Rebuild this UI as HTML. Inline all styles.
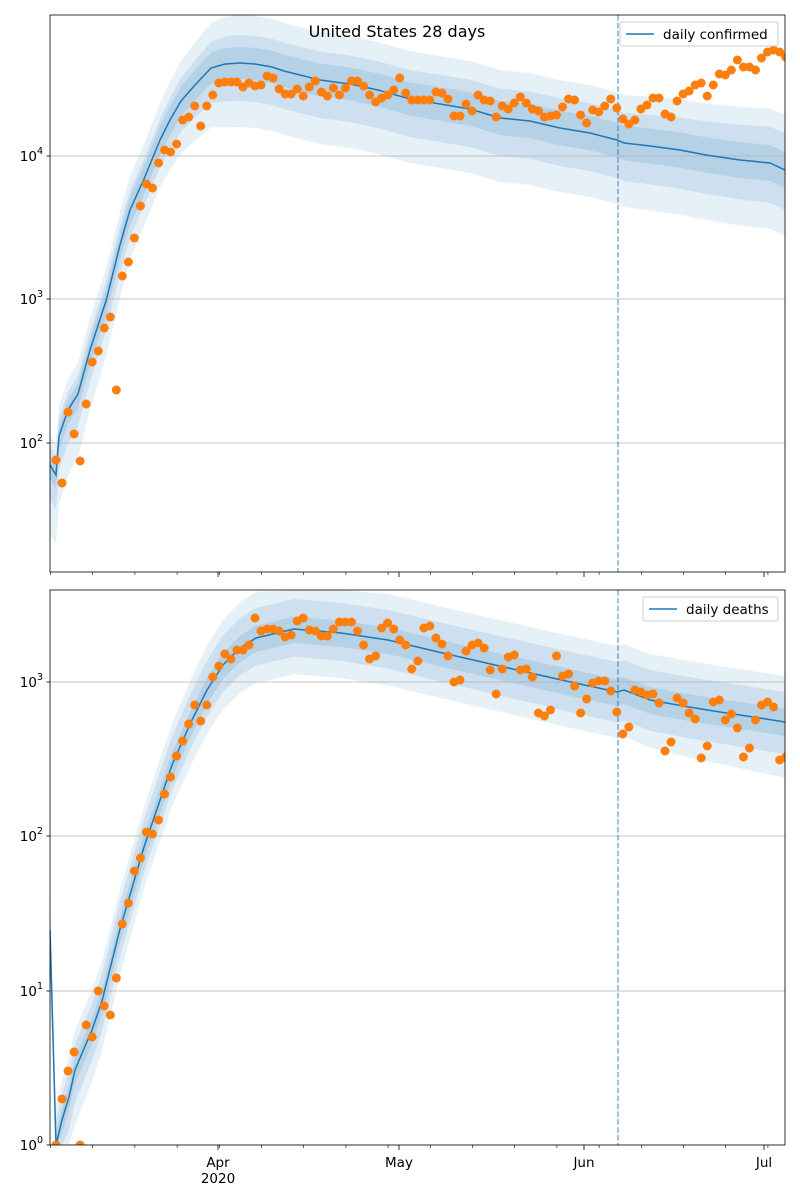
<!DOCTYPE html>
<html><head><meta charset="utf-8"><style>
html,body{margin:0;padding:0;background:#fff;}
svg{display:block;font-family:"DejaVu Sans","Liberation Sans",sans-serif;}
</style></head><body>
<svg id="s" width="800" height="1200" xmlns="http://www.w3.org/2000/svg"></svg>
<script>
const S=document.getElementById('s');let h='';
const topY=[460,483,412,434,461,404,362,351,328,317,390,276,262,238,206,184,188,163,150,152,144,120,117,106,126,106,95,83,82,82,82,87,83,86,85,76,78,89,94,94,89,96,87,81,92,96,88,95,88,81,81,86,95,102,98,95,90,78,93,100,100,100,100,92,93,99,116,116,104,111,95,100,101,117,106,109,103,97,103,109,111,117,116,115,107,99,100,115,123,110,112,106,99,108,119,124,120,109,105,98,98,114,117,101,94,91,85,83,96,85,74,75,70,60,67,67,70,58,52,50,52,57];
const botY=[1145,1099,1071,1052,1145,1025,1037,991,1006,1015,978,924,903,871,858,832,834,820,794,777,756,741,724,705,721,705,677,666,654,659,650,650,645,618,631,629,629,631,637,635,621,618,630,631,636,636,629,622,622,622,631,645,659,656,628,623,629,640,645,669,661,628,626,638,644,656,682,680,651,645,643,648,670,694,669,657,655,670,669,677,713,716,710,656,676,674,686,713,699,683,681,681,691,712,734,727,690,692,695,694,703,751,742,698,703,713,719,758,746,702,700,720,714,728,757,748,720,705,702,707,760,757];
const topM=[[50,465],[56,475],[59,436],[68,410],[78,394],[90,350],[106,301],[120,245],[130,210],[144,179],[160,140],[170,120],[181,101],[195,85],[211,68],[225,64],[240,63],[255,64],[272,67],[284,71],[296,74],[320,80],[350,84],[378,90],[410,99],[440,104],[470,109],[500,118],[530,121],[560,128],[590,133],[617,140],[624,143],[650,146],[680,150],[706,155],[740,160],[770,163],[785,170]];
const botM=[[50,930],[56,1145],[62,1120],[69,1097],[75,1070],[83,1051],[92,1030],[102,1001],[120,929],[144,847],[172,765],[191,722],[207,690],[223,665],[240,648],[256,638],[294,629],[341,633],[388,640],[434,651],[495,665],[566,681],[617,692],[624,690],[650,700],[683,706],[720,712],[753,717],[785,722]];
function lerpW(x,pts){ // pts: [[x,w]...]
  if(x<=pts[0][0])return pts[0][1];
  for(let i=1;i<pts.length;i++){if(x<=pts[i][0]){let t=(x-pts[i-1][0])/(pts[i][0]-pts[i-1][0]);return pts[i-1][1]+(pts[i][1]-pts[i-1][1])*t;}}
  return pts[pts.length-1][1];
}
function band(M,upP,dnP,y0,y1,op){
  let up=[],dn=[];
  M.forEach(([x,y])=>{up.push([x,Math.max(y0,y-lerpW(x,upP))]);dn.push([x,Math.min(y1,y+lerpW(x,dnP))]);});
  let p=up.map(q=>q.join(',')).join(' ')+' '+dn.reverse().map(q=>q.join(',')).join(' ');
  return `<polygon points="${p}" fill="#1f77b4" fill-opacity="${op}"/>`;
}
function axes(y0,y1,M,D,ticks,label,legW,clipId,B){
  h+=`<clipPath id="${clipId}"><rect x="50" y="${y0}" width="735" height="${y1-y0}"/></clipPath><g clip-path="url(#${clipId})">`;
  h+=band(M,B[0],B[1],y0,y1,0.11);
  h+=band(M,B[2],B[3],y0,y1,0.12);
  h+=band(M,B[4],B[5],y0,y1,0.14);
  ticks.forEach(t=>{h+=`<line x1="50" x2="785" y1="${t[0]}" y2="${t[0]}" stroke="#b0b0b0" stroke-width="0.8"/>`;});
  h+=`<polyline points="${M.map(q=>q.join(',')).join(' ')}" fill="none" stroke="#1f77b4" stroke-width="1.5"/>`;
  h+=`<line x1="618" x2="618" y1="${y0}" y2="${y1}" stroke="#1f77b4" stroke-opacity="0.6" stroke-width="1.5" stroke-dasharray="5.5,2.4"/>`;
  D.forEach((y,i)=>{h+=`<circle cx="${56+6.03*i}" cy="${y}" r="4.5" fill="#ff7f0e"/>`;});
  h+=`</g>`;
  h+=`<rect x="50" y="${y0}" width="735" height="${y1-y0}" fill="none" stroke="#000" stroke-width="0.8"/>`;
  ticks.forEach(t=>{h+=`<line x1="46.5" x2="50" y1="${t[0]}" y2="${t[0]}" stroke="#000" stroke-width="0.8"/><text x="43" y="${t[0]+5}" font-size="13.5" text-anchor="end">10<tspan dy="-7" font-size="9.5">${t[1]}</tspan></text>`;});
  [218,399,584,764].forEach(x=>{h+=`<line x1="${x}" x2="${x}" y1="${y1}" y2="${y1+5}" stroke="#000" stroke-width="0.8"/>`;});
  for(let x=50.5;x<786;x+=42.2){h+=`<line x1="${x}" x2="${x}" y1="${y1}" y2="${y1+3}" stroke="#000" stroke-width="0.6"/>`;}
  let lx=785-7-legW;
  h+=`<rect x="${lx}" y="${y0+7}" width="${legW}" height="24" rx="2" fill="#fff" fill-opacity="0.8" stroke="#ccc"/>`;
  h+=`<line x1="${lx+6}" x2="${lx+34}" y1="${y0+19}" y2="${y0+19}" stroke="#1f77b4" stroke-width="1.5"/>`;
  h+=`<text x="${lx+43}" y="${y0+24}" font-size="13.5">${label}</text>`;
}
const Btop=[
 [[50,30],[150,35],[230,48],[620,48],[785,55]], [[50,70],[150,45],[230,64],[620,64],[785,66]],
 [[50,18],[150,20],[230,28],[620,30],[785,37]], [[50,35],[150,26],[230,38],[620,38],[785,40]],
 [[50,10],[230,16],[785,18]], [[50,14],[230,16],[785,18]]];
const Bbot=[
 [[50,40],[150,40],[230,46],[785,46]], [[50,60],[150,40],[230,45],[620,46],[785,56]],
 [[50,25],[230,30],[785,30]], [[50,35],[150,25],[230,27],[785,32]],
 [[50,12],[785,13]], [[50,14],[785,14]]];
axes(15,572,topM,topY,[[156,4],[299,3],[443,2]],'daily confirmed',158,'c1',Btop);
axes(590,1145,botM,botY,[[682,3],[836,2],[991,1],[1145,0]],'daily deaths',135,'c2',Bbot);
h+=`<text x="397" y="37" font-size="16" text-anchor="middle">United States 28 days</text>`;
h+=`<text x="218" y="1167" font-size="13.5" text-anchor="middle">Apr</text><text x="218" y="1183" font-size="13.5" text-anchor="middle">2020</text>`;
h+=`<text x="399" y="1167" font-size="13.5" text-anchor="middle">May</text><text x="584" y="1167" font-size="13.5" text-anchor="middle">Jun</text><text x="764" y="1167" font-size="13.5" text-anchor="middle">Jul</text>`;
S.innerHTML=h;
</script>
</body></html>
